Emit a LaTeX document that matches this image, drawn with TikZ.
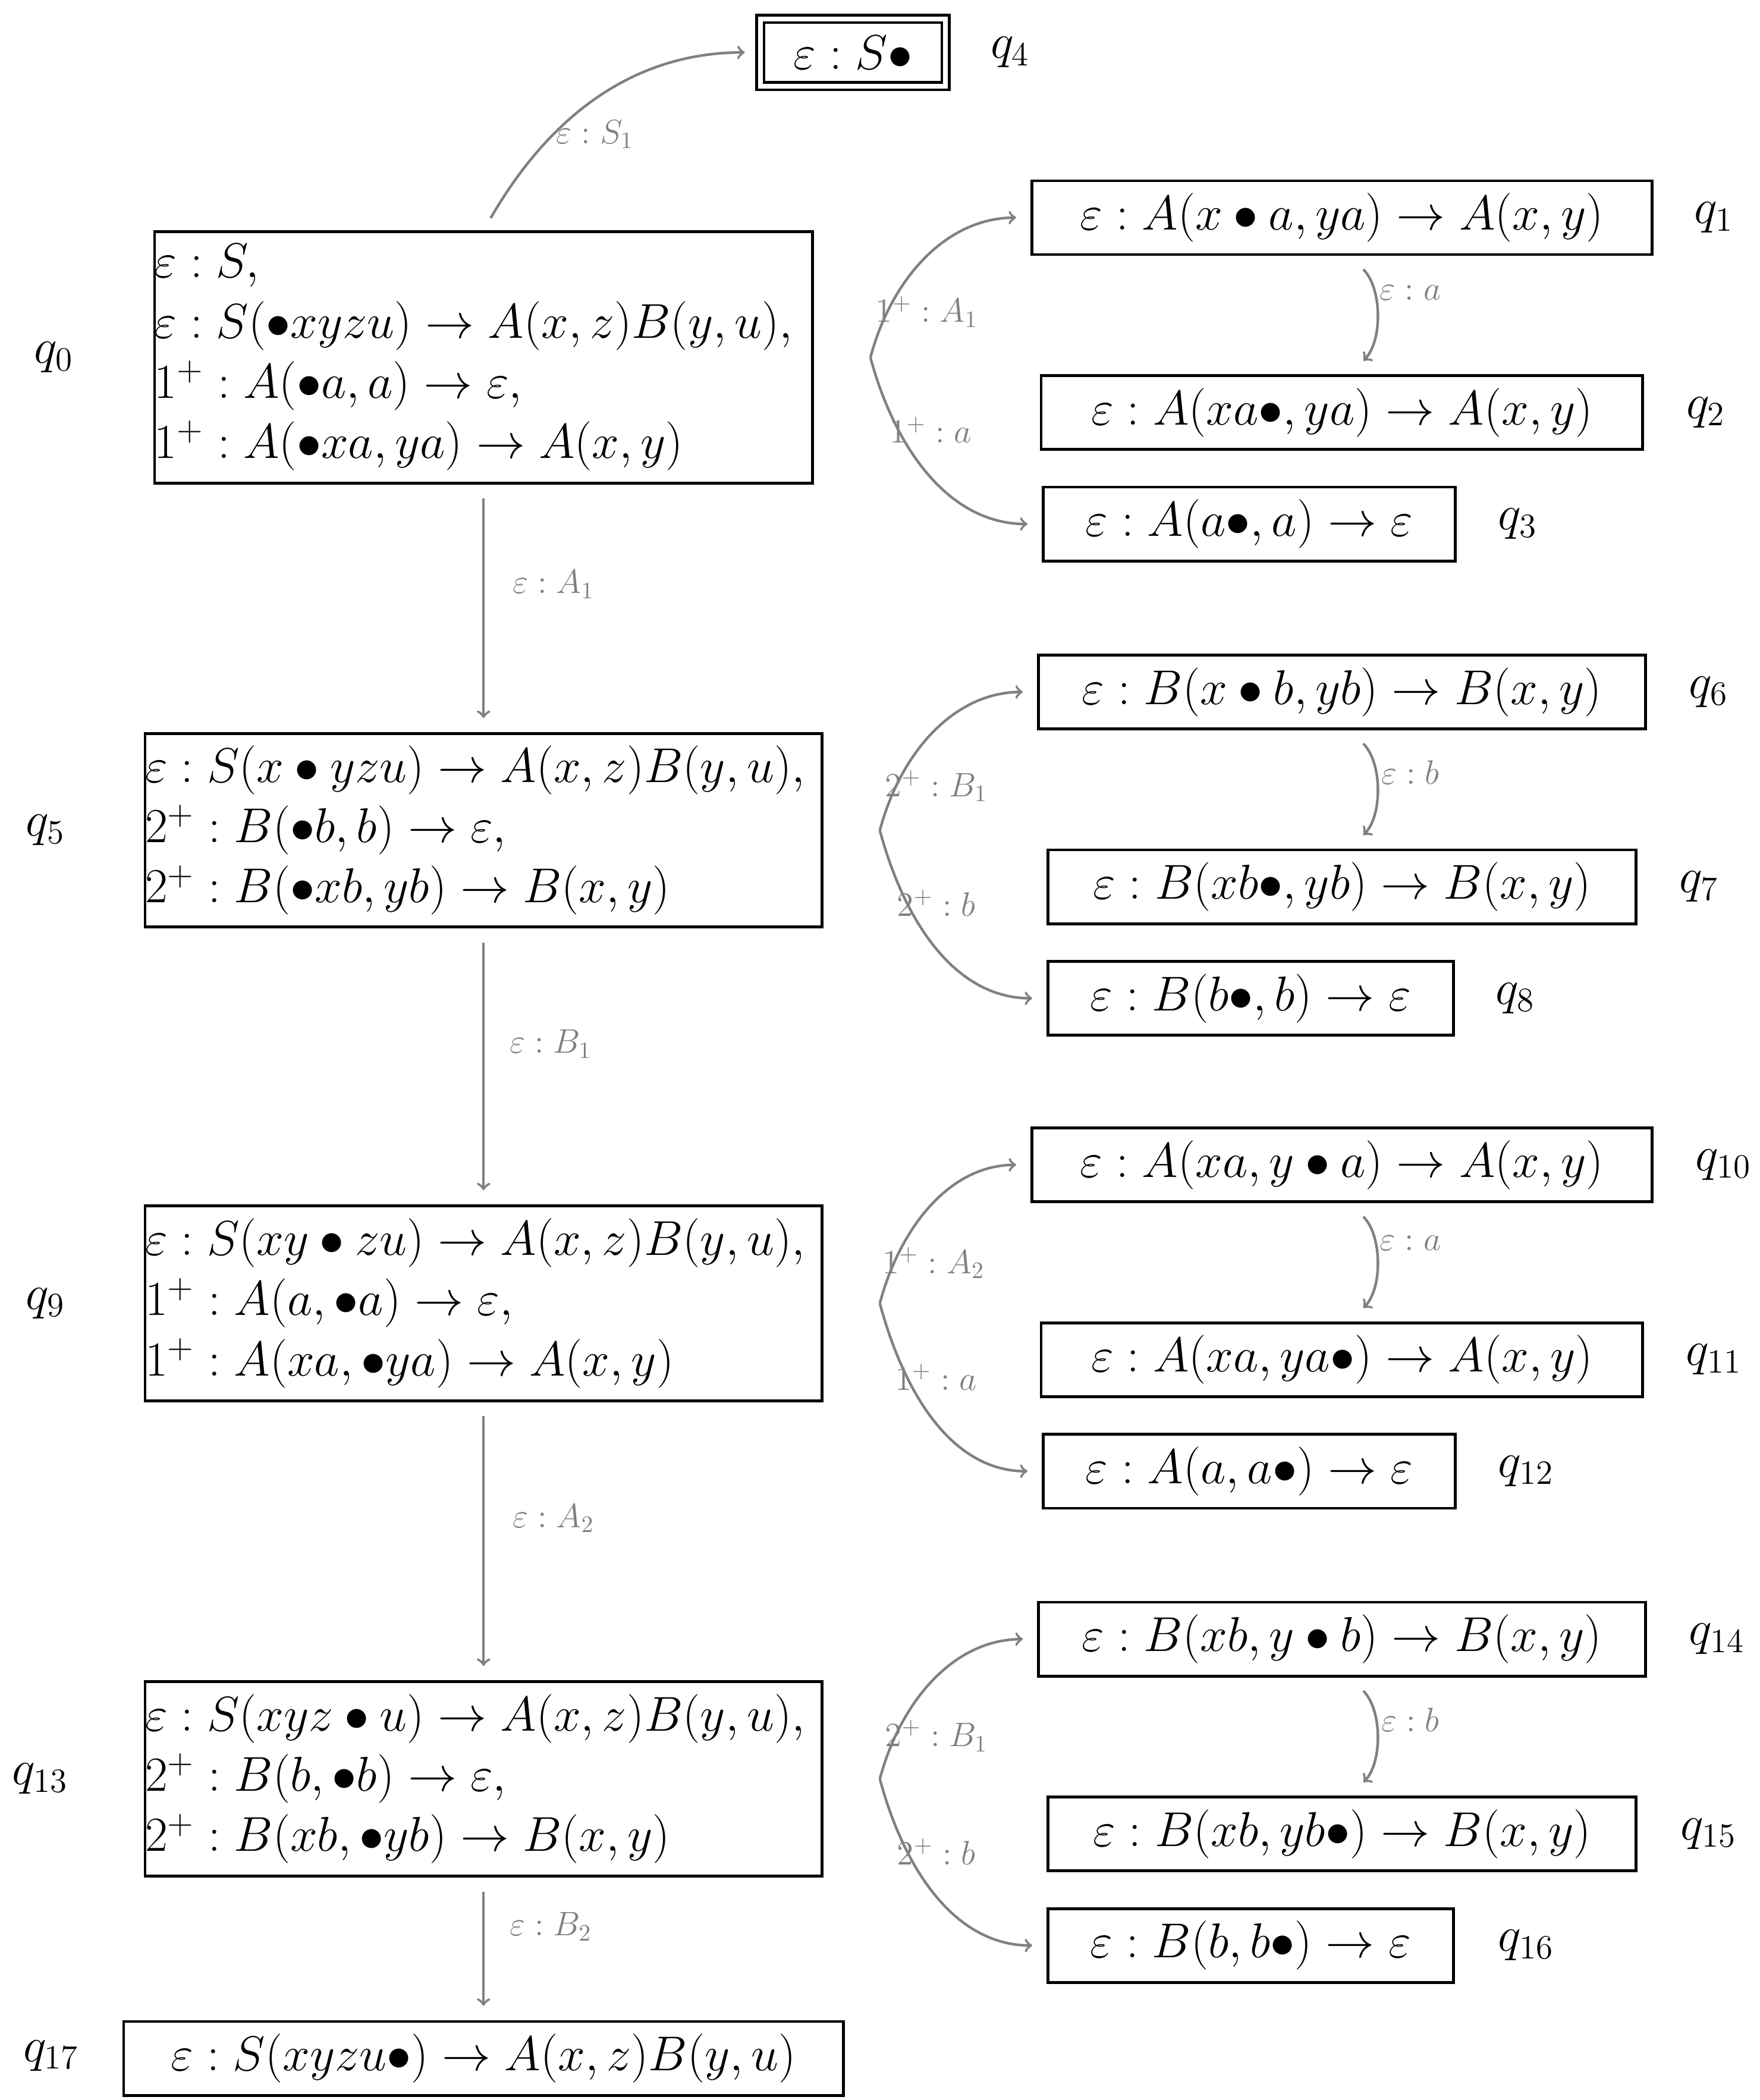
\documentclass[tikz,border=0pt]{standalone}
\usepackage{amsmath}
\tikzset{
  box/.style={draw, line width=1.2pt, inner sep=0pt, font=\fontsize{20}{25.5}\selectfont},
  mbox/.style={box, align=left, text width=#1},
  sbox/.style={box, minimum width=#1, minimum height=1.1cm},
  ql/.style={font=\fontsize{20}{24}\selectfont},
  lab/.style={text=black!50, font=\fontsize{14}{16}\selectfont},
  arr/.style={->, >=to, draw=black!50, line width=1.1pt}
}
\begin{document}
\begin{tikzpicture}[x=0.02cm,y=-0.02cm]
\useasboundingbox (0,0) rectangle (1310,1563);
% main column
\node[mbox=9.8cm, minimum height=3.74cm] (q0) at (360,266) {%
$\varepsilon : S,$\\ $\varepsilon : S(\bullet xyzu)\to A(x,z)B(y,u),$\\ $1^+ : A(\bullet a,a)\to\varepsilon,$\\ $1^+ : A(\bullet xa,ya)\to A(x,y)$};
\node[mbox=10.08cm, minimum height=2.88cm] (q5) at (360,618) {%
$\varepsilon : S(x\bullet yzu)\to A(x,z)B(y,u),$\\ $2^+ : B(\bullet b,b)\to\varepsilon,$\\ $2^+ : B(\bullet xb,yb)\to B(x,y)$};
\node[mbox=10.08cm, minimum height=2.9cm] (q9) at (360,970) {%
$\varepsilon : S(xy\bullet zu)\to A(x,z)B(y,u),$\\ $1^+ : A(a,\bullet a)\to\varepsilon,$\\ $1^+ : A(xa,\bullet ya)\to A(x,y)$};
\node[mbox=10.08cm, minimum height=2.9cm] (q13) at (360,1324) {%
$\varepsilon : S(xyz\bullet u)\to A(x,z)B(y,u),$\\ $2^+ : B(b,\bullet b)\to\varepsilon,$\\ $2^+ : B(xb,\bullet yb)\to B(x,y)$};
\node[sbox=10.72cm] (q17) at (360,1532) {$\varepsilon : S(xyzu\bullet)\to A(x,z)B(y,u)$};
\node[box, double, double distance=2pt, minimum width=2.76cm, minimum height=1.0cm] (q4) at (635,39) {$\varepsilon : S\bullet$};
% right column
\node[sbox=9.24cm] (q1) at (999,162) {$\varepsilon : A(x\bullet a,ya)\to A(x,y)$};
\node[sbox=8.96cm] (q2) at (999,307) {$\varepsilon : A(xa\bullet,ya)\to A(x,y)$};
\node[sbox=6.14cm] (q3) at (930,390) {$\varepsilon : A(a\bullet,a)\to\varepsilon$};
\node[sbox=9.04cm] (q6) at (999,515) {$\varepsilon : B(x\bullet b,yb)\to B(x,y)$};
\node[sbox=8.76cm] (q7) at (999,660) {$\varepsilon : B(xb\bullet,yb)\to B(x,y)$};
\node[sbox=6.04cm] (q8) at (931,743) {$\varepsilon : B(b\bullet,b)\to\varepsilon$};
\node[sbox=9.24cm] (q10) at (999,867) {$\varepsilon : A(xa,y\bullet a)\to A(x,y)$};
\node[sbox=8.96cm] (q11) at (999,1012) {$\varepsilon : A(xa,ya\bullet)\to A(x,y)$};
\node[sbox=6.14cm] (q12) at (930,1095) {$\varepsilon : A(a,a\bullet)\to\varepsilon$};
\node[sbox=9.04cm] (q14) at (999,1220) {$\varepsilon : B(xb,y\bullet b)\to B(x,y)$};
\node[sbox=8.76cm] (q15) at (999,1365) {$\varepsilon : B(xb,yb\bullet)\to B(x,y)$};
\node[sbox=6.04cm] (q16) at (931,1448) {$\varepsilon : B(b,b\bullet)\to\varepsilon$};
% state labels
\node[ql] (l0) at (40,266) {$q_0$};
\node[ql] (l5) at (34,618) {$q_5$};
\node[ql] (l9) at (34,970) {$q_9$};
\node[ql] (l13) at (30,1324) {$q_{13}$};
\node[ql] (l17) at (38,1530) {$q_{17}$};
\node[ql] (l4) at (752,39) {$q_4$};
\node[ql] (l1) at (1276,162) {$q_1$};
\node[ql] (l2) at (1270,307) {$q_2$};
\node[ql] (l3) at (1130,390) {$q_3$};
\node[ql] (l6) at (1272,515) {$q_6$};
\node[ql] (l7) at (1265,660) {$q_7$};
\node[ql] (l8) at (1128,743) {$q_8$};
\node[ql] (l10) at (1283,867) {$q_{10}$};
\node[ql] (l11) at (1276,1012) {$q_{11}$};
\node[ql] (l12) at (1136,1095) {$q_{12}$};
\node[ql] (l14) at (1278,1220) {$q_{14}$};
\node[ql] (l15) at (1272,1365) {$q_{15}$};
\node[ql] (l16) at (1136,1448) {$q_{16}$};
% forks
\coordinate (f0) at (648,266);
\coordinate (f5) at (655,618);
\coordinate (f9) at (655,970);
\coordinate (f13) at (655,1324);
% edges
\draw[arr, shorten <=6pt, shorten >=6pt] (q0.north) to[out=60,in=180] (q4.west);
\node[lab] (e4) at (443,100) {$\varepsilon : S_1$};
\foreach \a/\b/\c in {q0/q5/A_1, q5/q9/B_1, q9/q13/A_2, q13/q17/B_2}{
  \draw[arr, shorten <=6pt, shorten >=6pt] (\a.south) -- (\b.north);
}
\node[lab] (e5) at (412,435) {$\varepsilon : A_1$};
\node[lab] (e9) at (410,777) {$\varepsilon : B_1$};
\node[lab] (e13) at (412,1130) {$\varepsilon : A_2$};
\node[lab] (e17) at (410,1434) {$\varepsilon : B_2$};
\foreach \f/\u/\d in {f0/q1/q3, f5/q6/q8, f9/q10/q12, f13/q14/q16}{
  \draw[arr, shorten >=6pt] (\f) to[out=75,in=180] (\u.west);
  \draw[arr, shorten >=6pt] (\f) to[out=-75,in=180] (\d.west);
}
\foreach \u/\d in {q1/q2, q6/q7, q10/q11, q14/q15}{
  \draw[arr, shorten <=8pt, shorten >=8pt] ([xshift=0.12cm]\u.south) to[bend left=45] ([xshift=0.12cm]\d.north);
}
\node[lab] (a1) at (690,232) {$1^+ : A_1$};
\node[lab] (a2) at (693,320) {$1^+ : a$};
\node[lab] (b1) at (697,585) {$2^+ : B_1$};
\node[lab] (b2) at (697,672) {$2^+ : b$};
\node[lab] (c1) at (695,940) {$1^+ : A_2$};
\node[lab] (c2) at (697,1025) {$1^+ : a$};
\node[lab] (d1) at (697,1292) {$2^+ : B_1$};
\node[lab] (d2) at (697,1378) {$2^+ : b$};
\node[lab] (g1) at (1050,218) {$\varepsilon : a$};
\node[lab] (g2) at (1050,575) {$\varepsilon : b$};
\node[lab] (g3) at (1050,925) {$\varepsilon : a$};
\node[lab] (g4) at (1050,1280) {$\varepsilon : b$};
\end{tikzpicture}
\end{document}
